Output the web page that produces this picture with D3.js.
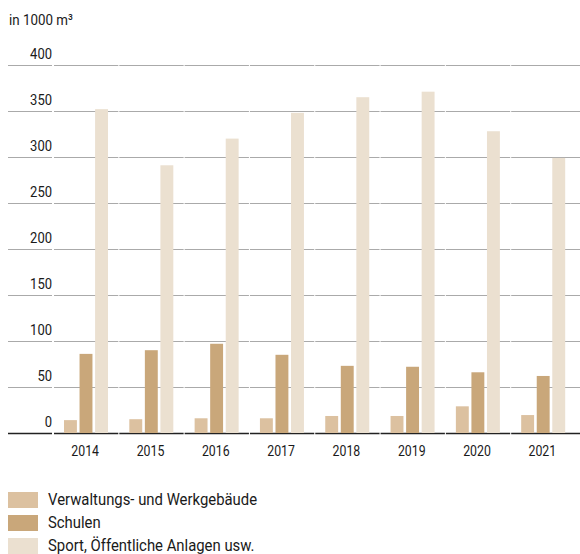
<!DOCTYPE html>
<html>
<head>
<meta charset="utf-8">
<script src="https://cdn.jsdelivr.net/npm/d3@7"></script>
<style>
  body { margin: 0; background: #fff; }
  text { font-family: "Roboto", sans-serif; fill: #1a1a1a; }
</style>
</head>
<body>
<svg id="chart" width="580" height="554"></svg>
<script>
// years on the x axis
var years = ['2014', '2015', '2016', '2017', '2018', '2019', '2020', '2021'];

// series names (legend order)
var seriesNames = ['Verwaltungs- und Werkgebäude', 'Schulen', 'Sport, Öffentliche Anlagen usw.'];

// values in 1000 m3
var verwaltung = [14, 15, 16, 16, 18.5, 18.5, 29, 19.5];
var schulen = [86, 90, 97, 85, 73, 72, 66, 62];
var sport = [352, 291, 320, 348, 365, 371, 328, 299];

var yTicks = [0, 50, 100, 150, 200, 250, 300, 350, 400];

var colors = ['#dcc1a0', '#c9a77a', '#ebe0d0'];

var svg = d3.select('#chart');

var x = d3.scaleBand()
  .domain(years)
  .range([53, 575.5]);

var inner = d3.scaleBand()
  .domain([0, 1, 2])
  .range([0, 44])
  .paddingInner(0.17);

var y = d3.scaleLinear()
  .domain([0, 400])
  .range([433, 65]);

// condensed look: Roboto squeezed horizontally around its anchor point
var condText = function(sel, px, py, sx) {
  return sel.attr('transform', 'translate(' + px + ',' + py + ') scale(' + sx + ',1)');
};

// gridlines, drawn as short segments with small gaps at the band edges
var segments = [[8, 52]].concat(years.map(function(yr) {
  return [x(yr) + 1, x(yr) + x.bandwidth()];
}));
segments[segments.length - 1][1] = 580;

yTicks.forEach(function(t) {
  svg.selectAll(null)
    .data(segments)
    .enter().append('line')
      .attr('x1', function(s) { return s[0]; })
      .attr('x2', function(s) { return s[1]; })
      .attr('y1', y(t) + 0.5)
      .attr('y2', y(t) + 0.5)
      .attr('stroke', t === 0 ? '#222' : '#aaa')
      .attr('stroke-width', t === 0 ? 1.3 : 1.2);
});

// tick labels above the gridlines
yTicks.forEach(function(t) {
  svg.append('text')
    .call(condText, 52, y(t) - 6.5, 0.84)
    .attr('text-anchor', 'end')
    .attr('font-size', 15.5)
    .text(t);
});

// bars
var allSeries = [verwaltung, schulen, sport];
allSeries.forEach(function(vals, si) {
  svg.selectAll(null)
    .data(vals)
    .enter().append('rect')
      .attr('x', function(d, i) { return x(years[i]) + 11 + inner(si); })
      .attr('y', function(d) { return y(d); })
      .attr('width', inner.bandwidth())
      .attr('height', function(d) { return y(0) - y(d); })
      .attr('fill', colors[si]);
});

// x labels
years.forEach(function(yr) {
  svg.append('text')
    .call(condText, x(yr) + x.bandwidth() / 2 - 0.5, 455.7, 0.88)
    .attr('text-anchor', 'middle')
    .attr('font-size', 14)
    .text(yr);
});

// unit label
svg.append('text')
  .call(condText, 9, 25, 0.89)
  .attr('font-size', 15)
  .text('in 1000 m³');

// legend
var legend = svg.selectAll('.legend')
  .data(seriesNames)
  .enter().append('g')
    .attr('class', 'legend')
    .attr('transform', function(d, i) { return 'translate(8,' + (492 + i * 23) + ')'; });

legend.append('rect')
  .attr('width', 30)
  .attr('height', 16)
  .attr('fill', function(d, i) { return colors[i]; });

legend.append('text')
  .call(condText, 40, 12.5, 0.93)
  .attr('font-size', 16)
  .text(function(d) { return d; });
</script>
</body>
</html>
